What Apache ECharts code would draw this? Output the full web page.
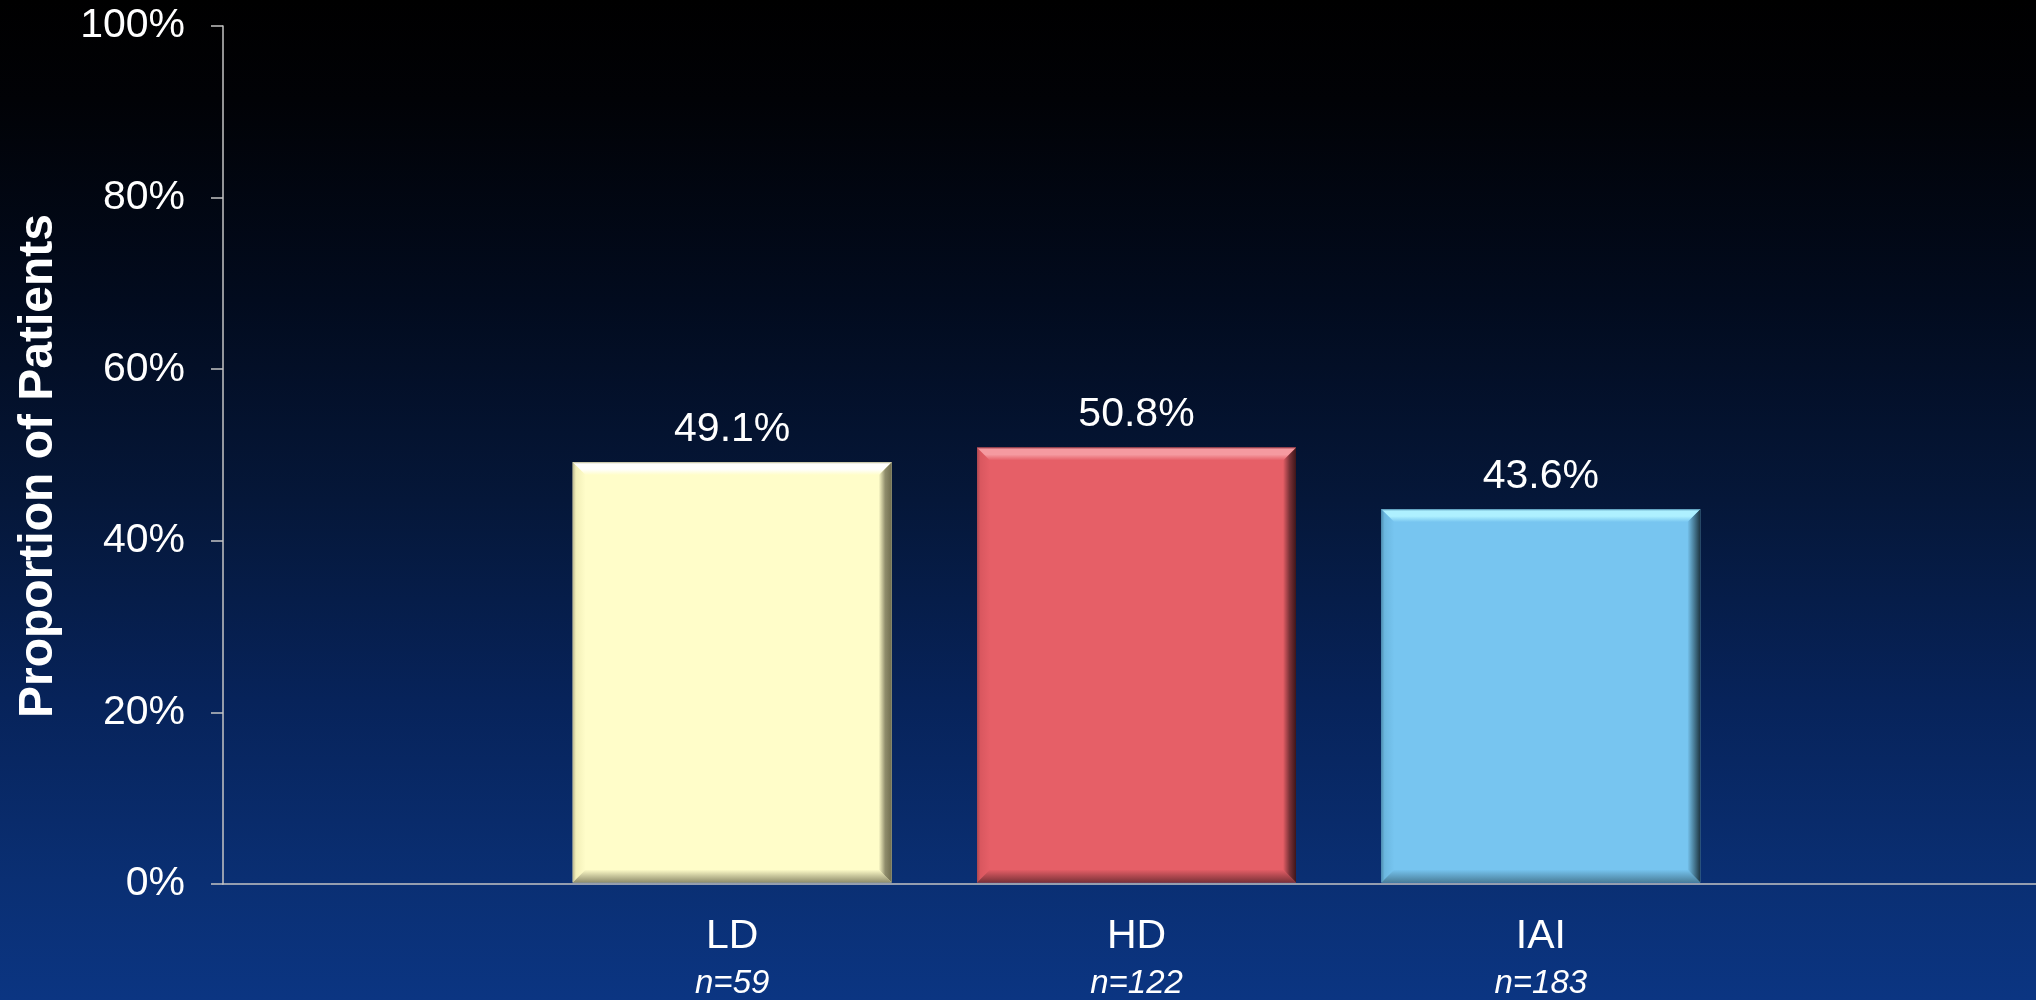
<!DOCTYPE html>
<html>
<head>
<meta charset="utf-8">
<script src="https://cdn.jsdelivr.net/npm/echarts@6/dist/echarts.min.js"></script>
<style>
html,body{margin:0;padding:0;width:2036px;height:1000px;overflow:hidden;}
#chart{width:2036px;height:1000px;
background:linear-gradient(to bottom,#000000 0%,#010206 10%,#020b1e 30%,#051739 50%,#07235a 70%,#0a2f73 88%,#0b3582 100%);}
</style>
</head>
<body>
<div id="chart"></div>
<script>
// ---- data ----
const categories = ['LD', 'HD', 'IAI'];
const sampleSizes = [59, 122, 183];
const values = [49.1, 50.8, 43.6];
const yTicks = [0, 20, 40, 60, 80, 100];
const yAxisName = 'Proportion of Patients';

// ---- styles ----
const FONT = '"Liberation Sans", Arial, Helvetica, sans-serif';
const barStyles = [
  {body: '#fffdc9', hi: '#ffffff', edge: '#b8b58f', dark: '#6f6d4e', bottom: '#8f8d6c', left: '#f2efb8'},
  {body: '#e65f67', hi: '#f59aa0', edge: '#a84750', dark: '#3e1519', bottom: '#7a3238', left: '#d9575f'},
  {body: '#77c5f0', hi: '#aef0ff', edge: '#4f8fb0', dark: '#1d3440', bottom: '#4a7e99', left: '#6bb7e0'}
];
const BAR_W = 319;
const BEVEL = 13;

const chart = echarts.init(document.getElementById('chart'), null, {renderer: 'canvas'});

const grad = (x1, y1, x2, y2, stops) => ({
  type: 'linear', x: x1, y: y1, x2: x2, y2: y2,
  colorStops: stops.map(s => ({offset: s[0], color: s[1]}))
});

const option = {
  animation: false,
  backgroundColor: 'transparent',
  grid: [
    {left: 223, right: 0, top: 26, bottom: 116, containLabel: false},
    {left: 530, width: 1213, top: 26, bottom: 116, containLabel: false}
  ],
  xAxis: [
    {
      gridIndex: 0, type: 'value', min: 0, max: 1,
      axisLine: {show: true, onZero: false, lineStyle: {color: '#c4c4c4', width: 1.5}},
      axisTick: {show: false}, axisLabel: {show: false}, splitLine: {show: false}
    },
    {
      gridIndex: 1, type: 'category', data: categories,
      axisLine: {show: false}, axisTick: {show: false}, splitLine: {show: false},
      axisLabel: {
        margin: 30,
        formatter: function (v, i) {
          return '{a|' + v + '}\n{b|n=' + sampleSizes[i] + '}';
        },
        rich: {
          a: {color: '#ffffff', fontSize: 41, fontFamily: FONT, lineHeight: 48},
          b: {color: '#ffffff', fontSize: 33, fontStyle: 'italic', fontFamily: FONT, lineHeight: 46}
        }
      }
    }
  ],
  yAxis: [
    {
      gridIndex: 0, type: 'value', min: yTicks[0], max: yTicks[yTicks.length - 1], interval: 20,
      name: yAxisName, nameLocation: 'middle', nameGap: 160, nameRotate: 90,
      nameTextStyle: {color: '#ffffff', fontSize: 48, fontWeight: 'bold', fontFamily: FONT, padding: [0, 22, 0, 0]},
      axisLine: {show: true, lineStyle: {color: '#c4c4c4', width: 1.5}},
      axisTick: {show: true, length: 12, lineStyle: {color: '#c4c4c4', width: 1.5}},
      splitLine: {show: false},
      axisLabel: {color: '#ffffff', fontSize: 41, fontFamily: FONT, margin: 38, formatter: '{value}%'}
    },
    {
      gridIndex: 1, type: 'value', min: yTicks[0], max: yTicks[yTicks.length - 1], interval: 20,
      show: false
    }
  ],
  series: [
    {
      type: 'bar', xAxisIndex: 1, yAxisIndex: 1, barWidth: BAR_W, z: 2,
      data: values.map((v, i) => ({value: v, itemStyle: {color: barStyles[i].body}})),
      label: {
        show: true, position: 'top', distance: 12,
        color: '#ffffff', fontSize: 41, fontFamily: FONT,
        formatter: p => p.value.toFixed(1) + '%'
      }
    },
    {
      type: 'custom', xAxisIndex: 1, yAxisIndex: 1, silent: true, z: 3,
      data: values.map((v, i) => [i, v]),
      renderItem: function (params, api) {
        const i = api.value(0);
        const top = api.coord([i, api.value(1)]);
        const bot = api.coord([i, 0]);
        const s = barStyles[i];
        const x0 = top[0] - BAR_W / 2, x1 = top[0] + BAR_W / 2;
        const y0 = top[1], y1 = bot[1];
        const b = BEVEL;
        return {
          type: 'group',
          children: [
            {type: 'polygon', shape: {points: [[x0, y0], [x0 + b, y0 + b], [x0 + b, y1 - b], [x0, y1]]},
              style: {fill: grad(0, 0, 1, 0, [[0, s.edge], [0.25, s.left], [1, s.body]])}},
            {type: 'polygon', shape: {points: [[x0, y1], [x1, y1], [x1 - b, y1 - b], [x0 + b, y1 - b]]},
              style: {fill: grad(0, 0, 0, 1, [[0, s.body], [1, s.bottom]])}},
            {type: 'polygon', shape: {points: [[x1, y0], [x1, y1], [x1 - b, y1 - b], [x1 - b, y0 + b]]},
              style: {fill: grad(0, 0, 1, 0, [[0, s.body], [0.5, s.bottom], [1, s.dark]])}},
            {type: 'polygon', shape: {points: [[x0, y0], [x1, y0], [x1 - b, y0 + b], [x0 + b, y0 + b]]},
              style: {fill: grad(0, 0, 0, 1, [[0, s.edge], [0.15, s.hi], [0.55, s.hi], [1, s.body]])}}
          ]
        };
      }
    }
  ]
};
chart.setOption(option);
</script>
</body>
</html>
